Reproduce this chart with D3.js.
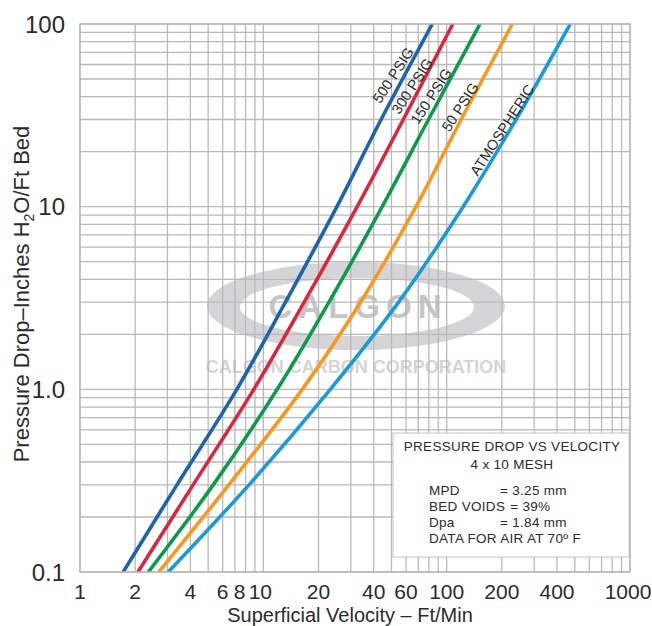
<!DOCTYPE html>
<html>
<head>
<meta charset="utf-8">
<script src="https://cdn.jsdelivr.net/npm/d3@7"></script>
<style>
  body { margin: 0; background: #fff; }
  text { font-family: "Liberation Sans", Arial, sans-serif; fill: #2b2b2b; }
</style>
</head>
<body>
<svg id="chart" width="652" height="626"></svg>
<script>
// Pressure drop (in H2O / ft bed) read against superficial velocity (ft/min)
const series = ["500 PSIG", "300 PSIG", "150 PSIG", "50 PSIG", "ATMOSPHERIC"];
const colors = ["#1d63ad", "#d8273f", "#0e9a4b", "#f8991f", "#1a9ad6"];
const pressureDrop = [0.1, 0.3, 1, 3, 10, 30, 100];
const velocity500 = [1.72, 3.38, 7.17, 13.2, 25.2, 43.9, 83.5];
const velocity300 = [2.07, 4.14, 8.87, 16.7, 32.5, 58, 108];
const velocity150 = [2.36, 5.33, 11.9, 22.8, 44.5, 79.6, 152];
const velocity50 = [2.69, 6.48, 16.3, 33.9, 68, 120, 228];
const velocityAtm = [3.03, 8.35, 23.2, 54.7, 123, 239, 472];
const xTickLabels = [1, 2, 4, 6, 8, 10, 20, 40, 60, 100, 200, 400, 1000];
const yTickLabels = ["0.1", "1.0", "10", "100"];
const noteLines = ["PRESSURE DROP VS VELOCITY", "4 x 10 MESH"];
const noteRows = [["MPD", "= 3.25 mm"], ["BED VOIDS", "= 39%"], ["Dpa", "= 1.84 mm"]];
const noteFoot = "DATA FOR AIR AT 70\u00ba F";

let allVel = [velocity500, velocity300, velocity150, velocity50, velocityAtm];

let svg = d3.select("#chart");
let plotL = 80, plotR = 630, plotT = 24, plotB = 572;

let x = d3.scaleLog().domain([1, 1000]).range([plotL, plotR]);
let y = d3.scaleLog().domain([0.1, 100]).range([plotB, plotT]);

//Watermark (behind the grid)
let wm = svg.append("g");
let ellipsePath = function(cx, cy, rx, ry) {
	return "M" + (cx - rx) + "," + cy +
		"a" + rx + "," + ry + " 0 1,0 " + (2 * rx) + ",0" +
		"a" + rx + "," + ry + " 0 1,0 " + (-2 * rx) + ",0Z";
};
wm.append("path")
	.attr("d", ellipsePath(356, 306, 149, 44) + ellipsePath(357, 307, 117, 29))
	.attr("fill", "#d5d5d7")
	.attr("fill-rule", "evenodd");
wm.append("text")
	.attr("x", 358).attr("y", 318)
	.attr("text-anchor", "middle")
	.style("font-size", "33px").style("font-weight", "bold")
	.style("letter-spacing", "6px")
	.style("fill", "#c6c6c8")
	.text("CALGON");
wm.append("text")
	.attr("x", 356).attr("y", 373)
	.attr("text-anchor", "middle")
	.style("font-size", "18px").style("font-weight", "bold")
	.style("fill", "#d4d4d6")
	.text("CALGON CARBON CORPORATION");

//Grid
let xGrid = [], yGrid = [];
[1, 10, 100].forEach(d => d3.range(1, 10).forEach(k => xGrid.push(d * k)));
xGrid.push(1000);
[0.1, 1, 10].forEach(d => d3.range(1, 10).forEach(k => yGrid.push(+(d * k).toFixed(2))));
yGrid.push(100);

let grid = svg.append("g").attr("stroke", "#b9b9bd").attr("stroke-width", 1.3);
grid.selectAll(".vx").data(xGrid).join("line")
	.attr("x1", d => x(d)).attr("x2", d => x(d))
	.attr("y1", plotT).attr("y2", plotB);
grid.selectAll(".hy").data(yGrid).join("line")
	.attr("x1", plotL).attr("x2", plotR)
	.attr("y1", d => y(d)).attr("y2", d => y(d));

//Curves
svg.append("clipPath").attr("id", "plotClip")
	.append("rect").attr("x", plotL).attr("y", plotT)
	.attr("width", plotR - plotL).attr("height", plotB - plotT);

let line = d3.line()
	.x(d => x(d[0]))
	.y(d => y(d[1]))
	.curve(d3.curveCatmullRom.alpha(0.5));

let curves = svg.append("g").attr("clip-path", "url(#plotClip)");
allVel.forEach((vel, i) => {
	curves.append("path")
		.attr("d", line(vel.map((v, j) => [v, pressureDrop[j]])))
		.attr("fill", "none")
		.attr("stroke", colors[i])
		.attr("stroke-width", 3.6);
});

//Curve labels, set along the upper end of each curve
let labelPos = [[393, 75], [412, 86], [431, 96], [460, 107], [502, 130]];
series.forEach((name, i) => {
	svg.append("text")
		.attr("transform", "translate(" + labelPos[i][0] + "," + labelPos[i][1] + ") rotate(-57)")
		.attr("text-anchor", "middle")
		.attr("dy", "0.36em")
		.style("font-size", "14.5px")
		.text(name);
});

//Note box
let box = svg.append("g").style("font-size", "13.5px").style("letter-spacing", "0.3px");
box.append("rect")
	.attr("x", 393).attr("y", 433).attr("width", 236).attr("height", 124)
	.attr("fill", "#fff").attr("stroke", "#c4c4c8").attr("stroke-width", 1);
noteLines.forEach((t, i) => {
	box.append("text").attr("x", 512).attr("y", 451 + i * 18)
		.attr("text-anchor", "middle").text(t);
});
let rowY = [495, 511, 527];
noteRows.forEach((r, i) => {
	let lab = box.append("text").attr("x", 429).attr("y", rowY[i]).text(r[0]);
	let endX = 429 + lab.node().getComputedTextLength();
	box.append("text").attr("x", Math.max(500, endX + 5)).attr("y", rowY[i]).text(r[1]);
});
box.append("text").attr("x", 429).attr("y", 543).text(noteFoot);

//Border
svg.append("rect")
	.attr("x", plotL).attr("y", plotT).attr("width", plotR - plotL).attr("height", plotB - plotT)
	.attr("fill", "none").attr("stroke", "#b9b9bd").attr("stroke-width", 1.3);

//Axes labels
let nudge = {8: -6, 10: -3, 1000: -2};
svg.append("g").selectAll("text").data(xTickLabels).join("text")
	.attr("x", d => x(d) + (nudge[d] || 0))
	.attr("y", 599)
	.attr("text-anchor", "middle")
	.style("font-size", "21px")
	.text(d => d);
svg.append("g").selectAll("text").data(yTickLabels).join("text")
	.attr("x", 65)
	.attr("y", d => y(+d) + 8.5)
	.attr("text-anchor", "end")
	.style("font-size", "24px")
	.text(d => d);

svg.append("text")
	.attr("x", 350).attr("y", 622)
	.attr("text-anchor", "middle")
	.style("font-size", "20px")
	.text("Superficial Velocity \u2013  Ft/Min");

let yTitle = svg.append("text")
	.attr("transform", "translate(29,294) rotate(-90)")
	.attr("text-anchor", "middle")
	.style("font-size", "22px");
yTitle.append("tspan").text("Pressure Drop\u2013Inches H");
yTitle.append("tspan").attr("dy", 5).style("font-size", "14px").text("2");
yTitle.append("tspan").attr("dy", -5).text("O/Ft Bed");
</script>
</body>
</html>
